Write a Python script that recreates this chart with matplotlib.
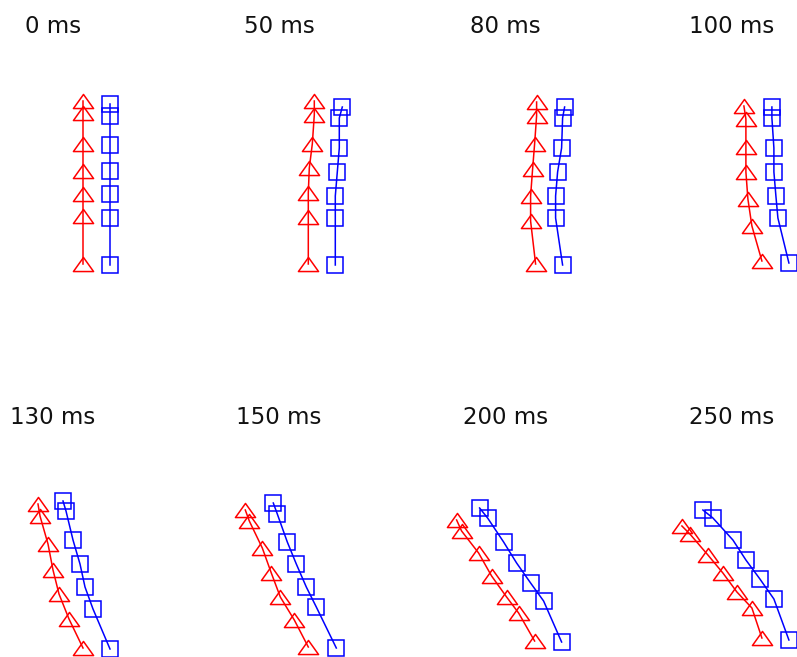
import matplotlib
matplotlib.use("Agg")
import matplotlib.pyplot as plt
from matplotlib.path import Path

# Frame times shown in each panel
times = [0, 50, 80, 100, 130, 150, 200, 250]
labels = [f"{t} ms" for t in times]

# Marker positions (cm) for the two columns of markers, one row per frame,
# measured from the base of the left column at rest.
red_x = [
    [0.0, 0.0, 0.0, 0.0, 0.0, 0.0, 0.0],
    [0.5, 0.5, 0.3, 0.0, -0.1, -0.1, -0.1],
    [0.1, 0.1, -0.1, -0.3, -0.5, -0.5, 0.0],
    [-1.8, -1.6, -1.6, -1.6, -1.4, -1.0, 0.0],
    [-4.5, -4.3, -3.5, -3.0, -2.4, -1.4, 0.0],
    [-6.4, -6.0, -4.7, -3.8, -2.9, -1.5, -0.1],
    [-7.9, -7.4, -5.7, -4.4, -2.9, -1.7, -0.1],
    [-8.0, -7.2, -5.4, -3.9, -2.5, -1.0, 0.0],
]
red_y = [
    [16.3, 15.1, 12.0, 9.3, 7.0, 4.8, 0.0],
    [16.3, 14.9, 12.0, 9.6, 7.1, 4.7, 0.0],
    [16.2, 14.8, 12.0, 9.5, 6.8, 4.3, 0.0],
    [15.8, 14.5, 11.7, 9.2, 6.5, 3.8, 0.3],
    [15.1, 13.9, 11.1, 8.5, 6.1, 3.6, 0.7],
    [14.5, 13.4, 10.7, 8.2, 5.8, 3.5, 0.8],
    [13.5, 12.4, 10.2, 7.9, 5.8, 4.2, 1.4],
    [12.9, 12.1, 10.0, 8.2, 6.3, 4.7, 1.7],
]
blue_x = [
    [2.7, 2.7, 2.7, 2.7, 2.7, 2.7, 2.7],
    [3.3, 3.0, 3.0, 2.8, 2.6, 2.6, 2.6],
    [2.9, 2.7, 2.6, 2.2, 2.0, 2.0, 2.7],
    [1.0, 1.0, 1.2, 1.2, 1.4, 1.6, 2.7],
    [-2.0, -1.7, -1.0, -0.3, 0.2, 1.0, 2.7],
    [-3.6, -3.2, -2.2, -1.3, -0.3, 0.7, 2.7],
    [-5.6, -4.8, -3.2, -1.9, -0.5, 0.8, 2.6],
    [-5.9, -4.9, -2.9, -1.6, -0.2, 1.2, 2.7],
]
blue_y = [
    [16.0, 14.8, 11.9, 9.3, 7.0, 4.6, -0.1],
    [15.7, 14.6, 11.6, 9.2, 6.8, 4.6, -0.1],
    [15.7, 14.6, 11.6, 9.2, 6.8, 4.6, -0.1],
    [15.7, 14.6, 11.6, 9.2, 6.8, 4.6, 0.1],
    [15.4, 14.4, 11.5, 9.1, 6.8, 4.6, 0.6],
    [15.2, 14.1, 11.3, 9.1, 6.8, 4.8, 0.7],
    [14.7, 13.7, 11.3, 9.2, 7.2, 5.4, 1.3],
    [14.5, 13.7, 11.5, 9.5, 7.6, 5.6, 1.5],
]

# Flat open triangle marker
tri = Path([(0, 0.7), (-1, -0.7), (1, -0.7), (0, 0.7)],
           [Path.MOVETO, Path.LINETO, Path.LINETO, Path.CLOSEPOLY])

W, H = 797, 657
fig = plt.figure(figsize=(W / 100, H / 100), dpi=100)
fig.patch.set_facecolor("white")

col_w = 226.3
ax_h = 250.0
row_bottom_px = [290.0, 681.0]

for i, lab in enumerate(labels):
    row, col = divmod(i, 4)
    left = col * col_w / W
    bottom = (H - row_bottom_px[row]) / H
    ax = fig.add_axes([left, bottom, col_w / W, ax_h / H])
    ax.set_xlim(-8.3, 14.33)
    ax.set_ylim(-2.6, 22.4)
    ax.axis("off")

    ax.plot(red_x[i], red_y[i], color="#ff0000", lw=1.1,
            marker=tri, markersize=14.5, markerfacecolor="none",
            markeredgecolor="#ff0000", markeredgewidth=1.1, clip_on=False)
    ax.plot(blue_x[i], blue_y[i], color="#0000ff", lw=1.1,
            marker="s", markersize=11.5, markerfacecolor="none",
            markeredgecolor="#0000ff", markeredgewidth=1.1, clip_on=False)

    ax.text(0.233, 1.027, lab, transform=ax.transAxes, ha="center",
            va="baseline", fontsize=16.5, color="#111111",
            family="DejaVu Sans")

fig.savefig("out.png", dpi=100, facecolor="white")
